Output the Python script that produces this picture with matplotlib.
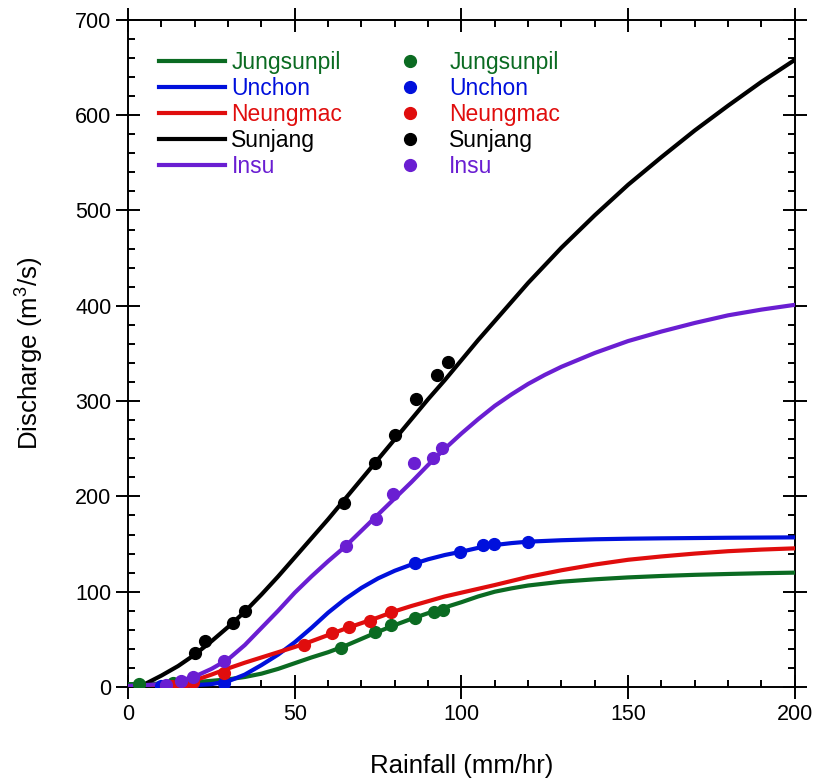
import matplotlib
matplotlib.use("Agg")
import matplotlib.pyplot as plt
from matplotlib.lines import Line2D
from matplotlib.ticker import MultipleLocator

plt.rcParams['font.family'] = ['Liberation Sans', 'DejaVu Sans']
plt.rcParams['mathtext.fontset'] = 'custom'
plt.rcParams['mathtext.rm'] = 'Liberation Sans'
plt.rcParams['mathtext.default'] = 'regular'

stations = ['Jungsunpil', 'Unchon', 'Neungmac', 'Sunjang', 'Insu']
colors = ['#0b6b22', '#0010dc', '#e00d0d', '#000000', '#6a1ed2']

# fitted rating curves (rainfall mm/hr -> discharge m3/s)
jung_cx = [0, 10, 20, 30, 35, 40, 45, 50, 55, 60, 65, 70, 75, 80, 85, 90, 95, 100, 105, 110,
           115, 120, 130, 140, 150, 160, 170, 180, 190, 200]
jung_cy = [3, 3.5, 5, 8, 10.5, 14, 19, 25, 31, 36.5, 43, 50.5, 58, 65, 71.5, 77.5, 83.5, 89,
           95, 100, 103.5, 106.5, 110.5, 113, 115, 116.5, 117.7, 118.6, 119.4, 120]

unch_cx = [0, 5, 10, 15, 20, 25, 30, 35, 40, 45, 50, 55, 60, 65, 70, 75, 80, 85, 90, 95,
           100, 105, 110, 115, 120, 130, 140, 150, 160, 180, 200]
unch_cy = [0, 0, 0.5, 1, 2, 3, 6, 13, 23, 34, 47, 62, 78, 92, 104, 114, 122, 128.5, 134, 138.5,
           142, 146, 149, 151, 152.5, 154, 155, 155.6, 156, 156.6, 157]

neun_cx = [0, 10, 15, 20, 25, 30, 35, 40, 45, 50, 55, 60, 65, 70, 75, 80, 85, 90, 95, 100,
           105, 110, 120, 130, 140, 150, 160, 170, 180, 190, 200]
neun_cy = [0, 1, 3, 7, 13, 19.5, 25.5, 31, 36.5, 42, 48, 54.5, 61, 67, 73, 79.5, 85, 90, 95, 99,
           103, 107, 115.5, 122.5, 128.5, 133.5, 137, 140, 142.5, 144.2, 145.5]

sunj_cx = [0, 5, 10, 15, 20, 25, 30, 35, 40, 45, 50, 55, 60, 65, 70, 75, 80, 85, 90, 95,
           100, 105, 110, 115, 120, 130, 140, 150, 160, 170, 180, 190, 200]
sunj_cy = [0, 3, 12, 22, 34, 48, 63, 79, 97, 116, 136, 156, 176, 197, 218, 239, 260, 281,
           302, 322, 343, 364, 384, 404, 424, 461, 495, 527, 556, 584, 610, 635, 658]

insu_cx = [0, 5, 10, 15, 20, 25, 30, 35, 40, 45, 50, 55, 60, 65, 70, 75, 80, 85, 90, 95,
           100, 105, 110, 115, 120, 125, 130, 140, 150, 160, 170, 180, 190, 200]
insu_cy = [1, 2, 3, 6, 11, 19, 29, 44, 62, 80, 99, 116, 132, 147, 164, 181, 198, 215, 233,
           250, 266, 281, 295, 307, 318, 327.5, 336, 350.5, 363, 373, 382, 390, 396, 401]

# observed events
jung_ox = [3.3, 13.5, 64, 74.2, 79, 86, 91.7, 94.5]
jung_oy = [3, 4, 41, 57.8, 64.8, 72.8, 78.8, 81.3]

unch_ox = [10, 14.3, 19.3, 28.8, 86, 99.7, 106.5, 109.7, 120]
unch_oy = [1, 1, 2, 4, 130, 142, 149.5, 150.5, 152]

neun_ox = [11.5, 13.3, 16.3, 19.5, 28.7, 52.7, 61.2, 66.3, 72.7, 79]
neun_oy = [1, 1, 2, 5, 15, 44, 57, 63, 69.3, 78.4]

sunj_ox = [20, 23, 31.5, 35.2, 64.7, 74, 80, 86.5, 92.7, 96]
sunj_oy = [35.7, 48, 67.6, 79.5, 192.6, 234.6, 264.3, 301.7, 327.3, 340.6]

insu_ox = [11.3, 15.8, 19.5, 28.8, 65.3, 74.5, 79.5, 85.8, 91.5, 94.3]
insu_oy = [2.5, 6.5, 10, 27, 147.7, 176.8, 202, 234.6, 240, 250.3]

curves = [(jung_cx, jung_cy), (unch_cx, unch_cy), (neun_cx, neun_cy),
          (sunj_cx, sunj_cy), (insu_cx, insu_cy)]
obs = [(jung_ox, jung_oy), (unch_ox, unch_oy), (neun_ox, neun_oy),
       (sunj_ox, sunj_oy), (insu_ox, insu_oy)]

fig = plt.figure(figsize=(8.16, 7.83), dpi=100)
ax = fig.add_axes([0.157, 0.1226, 0.817, 0.852])

for (cx, cy), c in zip(curves, colors):
    ax.plot(cx, cy, color=c, lw=3.0, solid_capstyle='round', solid_joinstyle='round', zorder=3)
for (ox, oy), c in zip(obs, colors):
    ax.plot(ox, oy, 'o', color=c, ms=8.5, zorder=4)

ax.set_xlim(0, 200)
ax.set_ylim(0, 700)
ax.xaxis.set_major_locator(MultipleLocator(50))
ax.xaxis.set_minor_locator(MultipleLocator(10))
ax.yaxis.set_major_locator(MultipleLocator(100))
ax.yaxis.set_minor_locator(MultipleLocator(20))
ax.tick_params(which='major', direction='inout', length=17, width=1.4,
               top=True, right=True, labelsize=15.5, pad=3.5)
ax.tick_params(which='minor', direction='in', length=4.8, width=1.4,
               top=True, right=True)
for s in ax.spines.values():
    s.set_linewidth(1.4)

ax.set_xlabel('Rainfall (mm/hr)', fontsize=18.5, labelpad=21)
ax.set_ylabel('Discharge (m$^3$/s)', fontsize=18.5, labelpad=21)

# legend: fitted lines in the left column, observations in the right
handles = [Line2D([], [], color=c, lw=3.0) for c in colors]
handles += [Line2D([], [], color=c, ls='none', marker='o', ms=8.5) for c in colors]
leg = ax.legend(handles, stations + stations, ncol=2, loc='upper left',
                bbox_to_anchor=(0.022, 0.978), frameon=False, fontsize=16.5,
                handlelength=2.9, handletextpad=0.27, labelspacing=0.14,
                columnspacing=1.5, borderaxespad=0.3)
for t, c in zip(leg.get_texts(), colors + colors):
    t.set_color(c)

fig.savefig('out.png', dpi=100)
